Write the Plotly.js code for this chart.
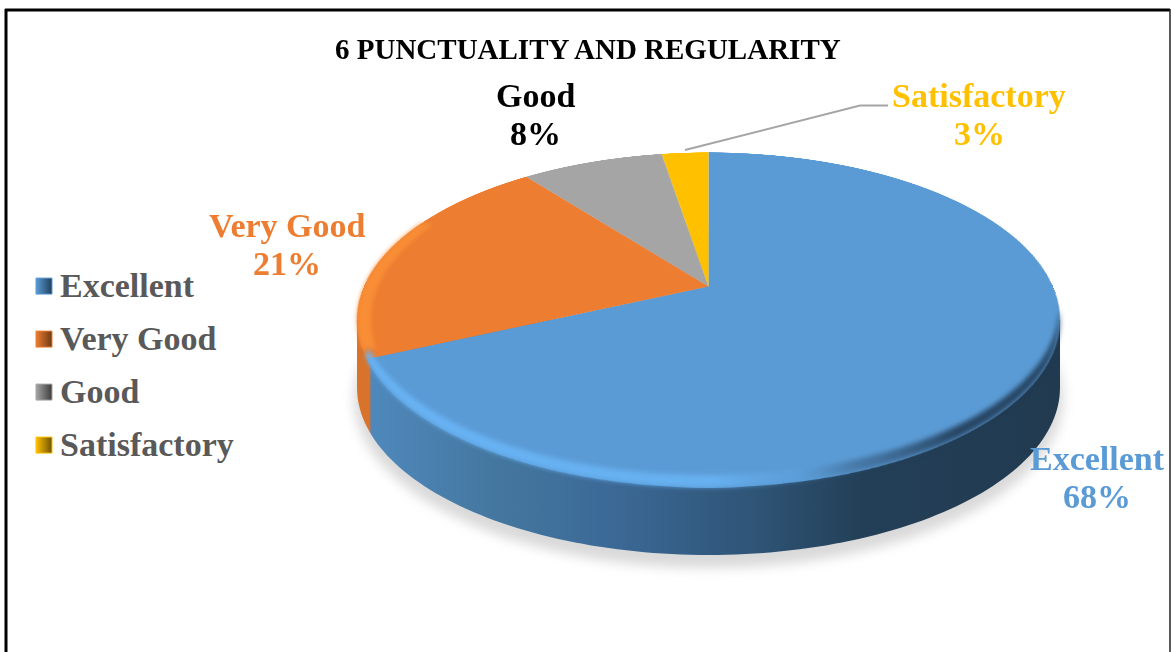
<!DOCTYPE html>
<html>
<head>
<meta charset="utf-8">
<script src="https://cdn.plot.ly/plotly-3.0.1.min.js"></script>
<style>
html,body{margin:0;padding:0;background:#fff;overflow:hidden;width:1171px;height:652px}
.layer{position:absolute}
</style>
</head>
<body>
<div id="bg" class="layer" style="left:0;top:0;width:1171px;height:652px"></div>
<div id="pie" class="layer"></div>
<div id="top" class="layer" style="left:0;top:0;width:1171px;height:652px"></div>
<script>
const chartTitle = '6 PUNCTUALITY AND REGULARITY';
const categories = ['Excellent', 'Very Good', 'Good', 'Satisfactory'];
const values = [68.2, 21.3, 7.9, 2.6];
const colors = ['#5B9BD5', '#ED7D31', '#A5A5A5', '#FFC000'];
const darkColors = ['#1f3f5c', '#6e3a14', '#3c3c3c', '#6e5300'];
const labelCenters = [[1097, 458.5], [287, 225.5], [535, 95.5], [979, 95.5]];
const labelColors = ['#5B9BD5', '#ED7D31', '#000000', '#FFC000'];
const leaderX = [685, 860, 888];
const leaderY = [150, 105.5, 105.5];

const FONT = '"Liberation Serif", serif';
const W = 1171, H = 652;
// Geometry of the tilted disc
const CX = 708.5, CY = 319.5, RX = 351.5, RY = 167.5, DEPTH = 68;
const APEX_Y = 286, R = 344.4, PERSP = 1523, TILT = 62.17;

function arc(cx, cy, rx, ry, t0, t1, n) {
  const xs = [], ys = [];
  for (let i = 0; i <= n; i++) {
    const t = (t0 + (t1 - t0) * i / n) * Math.PI / 180;
    xs.push(cx + rx * Math.cos(t));
    ys.push(cy + ry * Math.sin(t));
  }
  return [xs, ys];
}
const axes = {
  xaxis: {range: [0, W], visible: false, fixedrange: true},
  yaxis: {range: [H, 0], visible: false, fixedrange: true}
};
const base = Object.assign({width: W, height: H, margin: {l: 0, r: 0, t: 0, b: 0}}, axes);

// --- back layer: frame, legend, shadow, side wall ---
const bgTraces = [];
const [sx, sy] = arc(CX, CY + DEPTH + 11, RX + 3, RY + 2, 0, 360, 120);
bgTraces.push({x: sx, y: sy, mode: 'none', fill: 'toself', fillcolor: 'rgba(0,0,0,0.15)', showlegend: false, hoverinfo: 'skip'});
const [wx, wy] = arc(CX, CY + DEPTH, RX, RY, 0, 180, 120);
bgTraces.push({
  x: [CX + RX].concat(wx, [CX - RX, CX + RX]),
  y: [CY].concat(wy, [CY, CY]),
  mode: 'none', fill: 'toself', showlegend: false, hoverinfo: 'skip',
  fillgradient: {
    type: 'horizontal', start: CX - RX, stop: CX + RX,
    colorscale: [
      [0, '#d9722a'], [0.018, '#d9722a'], [0.02, '#4f88bc'], [0.2, '#44779f'],
      [0.35, '#3c6a98'], [0.56, '#2f5577'], [0.72, '#233f57'], [1, '#213a50']
    ]
  }
});
categories.forEach((c, i) => bgTraces.push({
  x: [null], y: [null], name: c, mode: 'markers', legendgroup: c,
  marker: {symbol: 'square', size: 16, color: colors[i], gradient: {type: 'horizontal', color: darkColors[i]}, line: {width: 1, color: colors[i]}},
  hoverinfo: 'skip'
}));
Plotly.newPlot('bg', bgTraces, Object.assign({}, base, {
  paper_bgcolor: '#ffffff', plot_bgcolor: '#ffffff',
  showlegend: true,
  legend: {
    x: 20 / W, xanchor: 'left', y: 1 - 255.5 / H, yanchor: 'top',
    bgcolor: 'rgba(0,0,0,0)', traceorder: 'grouped', tracegroupgap: 5.8,
    font: {family: FONT, size: 34, color: '#595959', weight: 'bold'}
  },
  shapes: [
    {type: 'line', xref: 'x', yref: 'y', x0: 6, x1: 6, y0: 9, y1: H, line: {color: '#000', width: 3}},
    {type: 'line', xref: 'x', yref: 'y', x0: 5, x1: 1170, y0: 10, y1: 10, line: {color: '#000', width: 3}},
    {type: 'line', xref: 'x', yref: 'y', x0: 1170, x1: 1170, y0: 9, y1: H, line: {color: '#222', width: 1.5}}
  ]
}), {staticPlot: true}).then(() => {
  const ts = document.querySelectorAll('#bg .scatterlayer .trace');
  if (ts[0]) ts[0].style.filter = 'blur(6px)';
  document.querySelectorAll('#bg .legend .legendsymbols').forEach(n => {
    n.setAttribute('transform', 'translate(4,2)');
  });
});

// --- disc: a real pie, tilted in perspective ---
const pieDiv = document.getElementById('pie');
pieDiv.style.cssText += `left:${CX - R}px;top:${APEX_Y - R}px;width:${2 * R}px;height:${2 * R}px;` +
  `transform:perspective(${PERSP}px) rotateX(${TILT}deg);transform-origin:50% 50%;`;
Plotly.newPlot('pie', [{
  type: 'pie', labels: categories, values: values, sort: false, direction: 'clockwise', rotation: 0,
  marker: {colors: colors, line: {width: 0}}, textinfo: 'none', showlegend: false, hoverinfo: 'skip'
}], {
  width: 2 * R, height: 2 * R, margin: {l: 0, r: 0, t: 0, b: 0},
  paper_bgcolor: 'rgba(0,0,0,0)', plot_bgcolor: 'rgba(0,0,0,0)', showlegend: false
}, {staticPlot: true});

// --- top layer: bevel, title, labels, leader line ---
const inset = 12;
const [ox, oy] = arc(CX, CY, RX, RY, 0, 167.5, 120);
const [ix, iy] = arc(CX, CY - inset, RX - 1, RY, 166, 0, 120);
const [ox2, oy2] = arc(CX, CY, RX, RY, 170, 215, 50);
const [ix2, iy2] = arc(CX + 8, CY, RX - 6, RY - 2, 215, 170, 50);
const topTraces = [
  {
    x: ox.concat(ix), y: oy.concat(iy), mode: 'none', fill: 'toself', showlegend: false, hoverinfo: 'skip',
    fillgradient: {
      type: 'horizontal', start: 368, stop: CX + RX,
      colorscale: [
        [0, 'rgba(105,180,245,0.95)'], [0.5, 'rgba(105,180,245,0.85)'], [0.62, 'rgba(95,165,225,0.35)'],
        [0.7, 'rgba(50,85,120,0.45)'], [0.85, 'rgba(30,55,80,0.85)'], [1, 'rgba(30,55,80,0.85)']
      ]
    }
  },
  {x: ox2.concat(ix2), y: oy2.concat(iy2), mode: 'none', fill: 'toself', fillcolor: 'rgba(250,145,55,0.85)', showlegend: false, hoverinfo: 'skip'},
  {x: leaderX, y: leaderY, mode: 'lines', line: {color: '#A5A5A5', width: 2}, showlegend: false, hoverinfo: 'skip'}
];
const annotations = [];
categories.forEach((c, i) => {
  const f = {family: FONT, size: 34, color: labelColors[i], weight: 'bold'};
  annotations.push({
    xref: 'x', yref: 'y', x: labelCenters[i][0], y: labelCenters[i][1],
    text: c, showarrow: false, xanchor: 'center', yanchor: 'middle', font: f
  });
  annotations.push({
    xref: 'x', yref: 'y', x: labelCenters[i][0], y: labelCenters[i][1] + 37.5,
    text: Math.round(values[i]) + '%', showarrow: false, xanchor: 'center', yanchor: 'middle', font: f
  });
});
annotations.push({
  xref: 'x', yref: 'y', x: 588, y: 49, text: chartTitle, showarrow: false,
  xanchor: 'center', yanchor: 'middle',
  font: {family: FONT, size: 29, color: '#000000', weight: 'bold'}
});
Plotly.newPlot('top', topTraces, Object.assign({}, base, {
  paper_bgcolor: 'rgba(0,0,0,0)', plot_bgcolor: 'rgba(0,0,0,0)', showlegend: false, annotations
}), {staticPlot: true}).then(() => {
  const ts = document.querySelectorAll('#top .scatterlayer .trace');
  if (ts[0]) ts[0].style.filter = 'blur(2.5px)';
  if (ts[1]) ts[1].style.filter = 'blur(2px)';
});
</script>
</body>
</html>
